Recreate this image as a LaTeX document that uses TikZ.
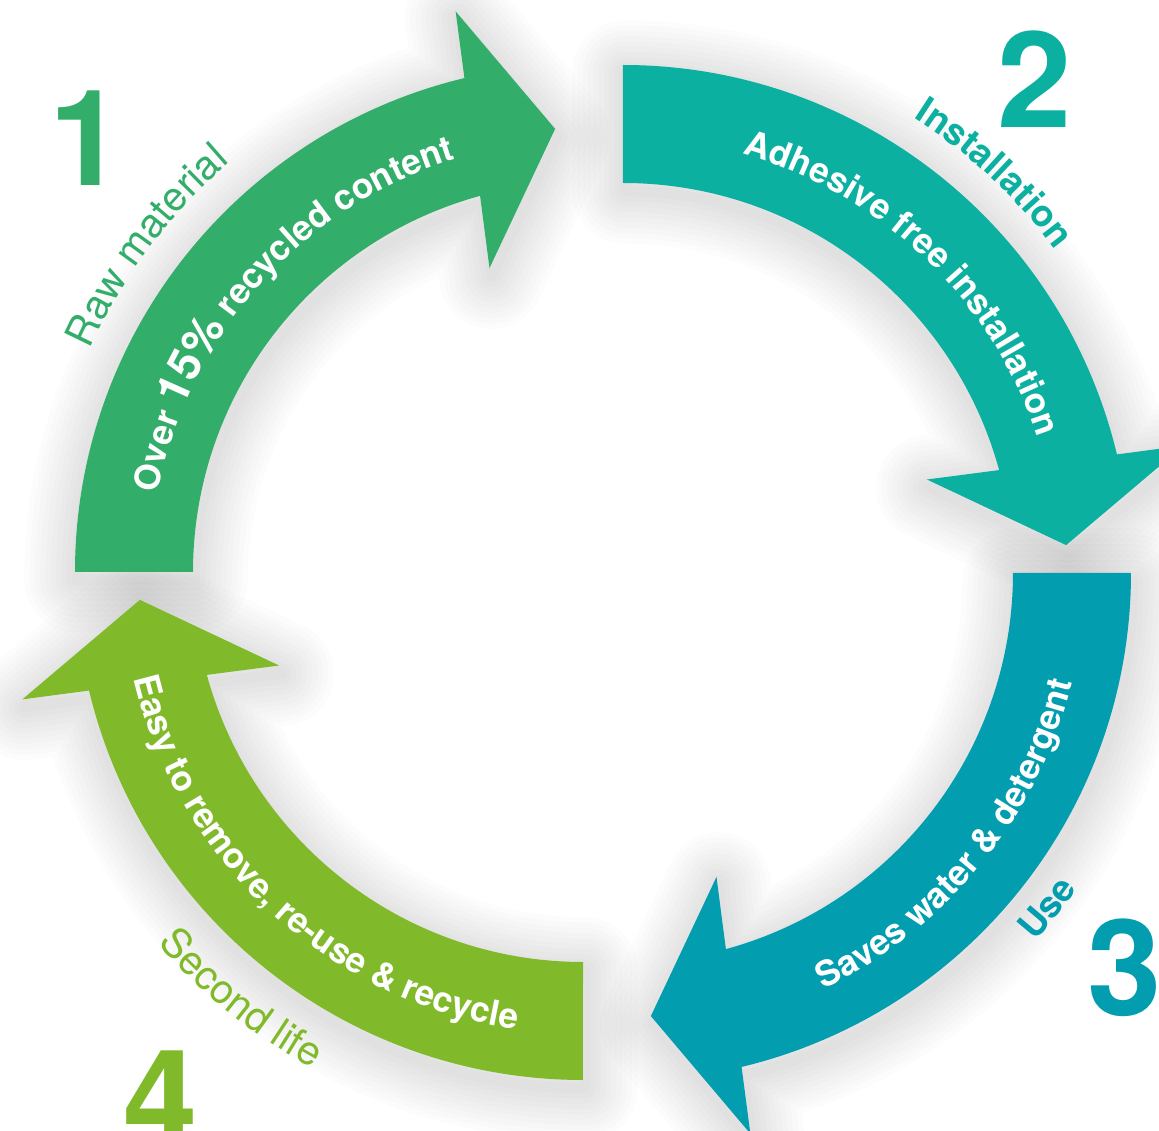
\documentclass[tikz,border=0pt]{standalone}
\usepackage{fontspec}
\setmainfont{TeX Gyre Heros}
\usetikzlibrary{calc,decorations.text}

\definecolor{rawgreen}{RGB}{50,174,106}
\definecolor{fitteal}{RGB}{11,176,160}
\definecolor{useblue}{RGB}{2,157,175}
\definecolor{lifelime}{RGB}{128,186,42}

\newcommand{\fsize}[1]{\fontsize{#1}{#1}\selectfont}

% one ring arrow: centre, start angle; it runs clockwise
\newcommand{\ringarrow}[2]{($(#1)+(#2:5.08)$) arc[start angle=#2, end angle=#2-76.5, radius=5.08]
  -- ($(#1)+(#2-77.2:5.75)$) -- ($(#1)+(#2-86.4:4.44)$) -- ($(#1)+(#2-72.9:3.18)$)
  -- ($(#1)+(#2-74.7:3.90)$) arc[start angle=#2-74.7, end angle=#2, radius=3.90] -- cycle}

\tikzset{
  alongtext/.style 2 args={decorate, decoration={text along path, text align=center, text color=#1, text={#2}}},
  numlabel/.style={anchor=base, inner sep=0pt, font=\bfseries\fsize{38}}
}

\begin{document}
\begin{tikzpicture}

  % white page of the reference size
  \useasboundingbox [fill=white] (0,0) rectangle (11.59,11.31);
  \clip (0,0) rectangle (11.59,11.31);

  % the two halves of the ring have their own centres
  \coordinate (CL) at (5.83,5.59);
  \coordinate (CR) at (6.23,5.58);

  % soft shadow under the arrows
  \begin{scope}[transform canvas={xshift=0.02cm,yshift=-0.08cm}]
    \foreach \w in {3,6,...,30}
      \foreach \c/\a in {CL/180, CR/90, CR/0, CL/270}
        \draw [black, draw opacity=0.011, line width=\w pt, line join=round] \ringarrow{\c}{\a};
  \end{scope}

  % the four arrows
  \foreach \c/\a/\col in {CL/180/rawgreen, CR/90/fitteal, CR/0/useblue, CL/270/lifelime}{
    \fill [\col] \ringarrow{\c}{\a};
  }

  % texts on the arrows
  \path [alongtext={white}{|\bfseries\fsize{10}|Over |\bfseries\fsize{13}|15{\%}|\bfseries\fsize{10}| recycled content}]
    ($(CL)+(180:4.32)$) arc[start angle=180, end angle=96.6, radius=4.32];
  \path [alongtext={white}{|\bfseries\fsize{10}|Adhesive free installation}]
    ($(CR)+(88:4.36)$) arc[start angle=88, end angle=4.2, radius=4.36];
  \path [alongtext={white}{|\bfseries\fsize{10}|Saves water {\&} detergent}]
    ($(CR)+(-75:4.62)$) arc[start angle=-75, end angle=-3, radius=4.62];
  \path [alongtext={white}{|\bfseries\fsize{10}|Easy to remove, re-use {\&} recycle}]
    ($(CL)+(185:4.62)$) arc[start angle=185, end angle=270, radius=4.62];

  % stage names round the outside
  \path [alongtext={rawgreen}{|\fsize{11.5}|Raw material}]
    ($(CL)+(170:5.41)$) arc[start angle=170, end angle=116.4, radius=5.41];
  \path [alongtext={fitteal}{|\bfseries\fsize{10.5}|Installation}]
    ($(CR)+(75:5.40)$) arc[start angle=75, end angle=19.2, radius=5.40];
  \path [alongtext={useblue}{|\bfseries\fsize{10.5}|Use}]
    ($(CR)+(-55:5.53)$) arc[start angle=-55, end angle=-21.6, radius=5.53];
  \path [alongtext={lifelime}{|\fsize{11.5}|Second life}]
    ($(CL)+(205:5.65)$) arc[start angle=205, end angle=257.6, radius=5.65];

  % stage numbers
  \node [numlabel, text=rawgreen] (n1) at (0.87,9.45) {1};
  \node [numlabel, text=fitteal] (n2) at (10.35,10.03) {2};
  \node [numlabel, text=useblue] (n3) at (11.25,1.15) {3};
  \node [numlabel, text=lifelime] (n4) at (1.61,-0.15) {4};

\end{tikzpicture}
\end{document}
